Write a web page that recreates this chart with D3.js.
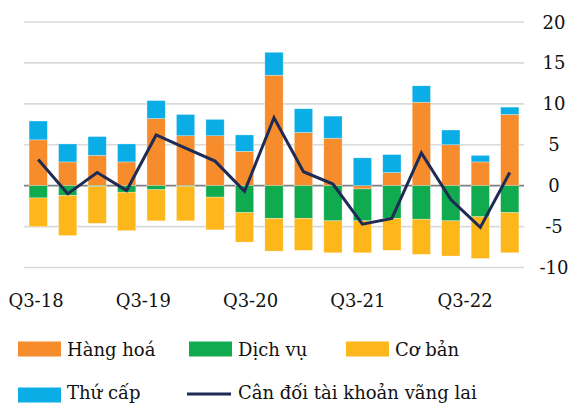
<!DOCTYPE html>
<html>
<head>
<meta charset="utf-8">
<script src="https://cdn.jsdelivr.net/npm/d3@7"></script>
<style>
  body { margin: 0; background: #fff; }
  svg text { font-family: 'DejaVu Serif', serif; fill: #111; }
</style>
</head>
<body>
<svg id="chart" width="574" height="403"></svg>
<script>
'use strict';

var quarters = ['Q3-18', 'Q4-18', 'Q1-19', 'Q2-19', 'Q3-19', 'Q4-19', 'Q1-20', 'Q2-20',
                'Q3-20', 'Q4-20', 'Q1-21', 'Q2-21', 'Q3-21', 'Q4-21', 'Q1-22', 'Q2-22', 'Q3-22'];
var tickLabels = ['Q3-18', 'Q3-19', 'Q3-20', 'Q3-21', 'Q3-22'];
var yTicks = [-10, -5, 0, 5, 10, 15, 20];

// series, % GDP
var hangHoa = [5.6, 2.9, 3.7, 2.9, 8.2, 6.1, 6.1, 4.2, 13.5, 6.5, 5.8, -0.4, 1.6, 10.2, 5.0, 2.9, 8.7];
var dichVu  = [-1.5, -1.2, -0.1, -0.8, -0.5, -0.1, -1.4, -3.3, -4.0, -4.0, -4.3, -3.9, -4.0, -4.1, -4.3, -3.8, -3.3];
var coBan   = [-3.5, -4.9, -4.5, -4.7, -3.8, -4.2, -4.0, -3.6, -4.0, -3.9, -3.9, -3.9, -3.9, -4.3, -4.3, -5.1, -4.9];
var thuCap  = [2.3, 2.2, 2.3, 2.2, 2.2, 2.6, 2.0, 2.0, 2.8, 2.9, 2.7, 3.4, 2.2, 2.0, 1.8, 0.8, 0.9];
var canDoi  = [3.2, -1.0, 1.6, -0.6, 6.2, 4.6, 3.0, -0.7, 8.3, 1.7, 0.2, -4.7, -4.0, 4.0, -1.7, -5.1, 1.6];

var seriesNames = ['Hàng hoá', 'Dịch vụ', 'Cơ bản', 'Thứ cấp'];
var seriesColors = ['#f68c2c', '#10aa4f', '#fdb71b', '#0aade5'];
var lineName = 'Cân đối tài khoản vãng lai';
var lineColor = '#1d2b55';

var rows = quarters.map(function(q, i) {
  return {q: q, 'Hàng hoá': hangHoa[i], 'Dịch vụ': dichVu[i], 'Cơ bản': coBan[i], 'Thứ cấp': thuCap[i]};
});

var svg = d3.select('#chart');

var x = d3.scaleBand()
    .domain(quarters)
    .range([23.5, 524.5])
    .paddingInner(0.38)
    .paddingOuter(0.19);

var y = d3.scaleLinear()
    .domain([-10, 20])
    .range([267.5, 22]);

// gridlines
svg.append('g')
    .selectAll('line')
    .data(yTicks)
  .enter().append('line')
    .attr('x1', 24)
    .attr('x2', 524)
    .attr('y1', function(d) { return y(d); })
    .attr('y2', function(d) { return y(d); })
    .attr('stroke', function(d) { return d === 0 ? '#808080' : '#dadada'; })
    .attr('stroke-width', 1.7);

// right axis labels
svg.append('g')
    .selectAll('text')
    .data(yTicks)
  .enter().append('text')
    .attr('x', 554)
    .attr('y', function(d) { return y(d) + 6.5; })
    .attr('text-anchor', 'middle')
    .style('font-size', '18px')
    .text(function(d) { return d; });

// stacked bars, negatives stacked downward
var stack = d3.stack()
    .keys(seriesNames)
    .offset(d3.stackOffsetDiverging);

var layers = svg.append('g')
    .selectAll('g')
    .data(stack(rows))
  .enter().append('g')
    .attr('fill', function(d, i) { return seriesColors[i]; });

layers.selectAll('rect')
    .data(function(d) { return d; })
  .enter().append('rect')
    .attr('x', function(d) { return x(d.data.q); })
    .attr('width', x.bandwidth())
    .attr('y', function(d) { return y(d[1]); })
    .attr('height', function(d) { return Math.abs(y(d[0]) - y(d[1])); })
    .attr('stroke', '#fff')
    .attr('stroke-opacity', 0.5)
    .attr('stroke-width', 0.6);

// current account line
var line = d3.line()
    .x(function(d, i) { return x(quarters[i]) + x.bandwidth() / 2; })
    .y(function(d) { return y(d); });

svg.append('path')
    .datum(canDoi)
    .attr('d', line)
    .attr('fill', 'none')
    .attr('stroke', lineColor)
    .attr('stroke-width', 3)
    .attr('stroke-linejoin', 'miter');

// category labels (Excel spaces them on its own grid)
var xLabel = d3.scalePoint()
    .domain(tickLabels)
    .range([36, 465]);

svg.append('g')
    .selectAll('text')
    .data(tickLabels)
  .enter().append('text')
    .attr('x', function(d) { return xLabel(d); })
    .attr('y', 307)
    .attr('text-anchor', 'middle')
    .style('font-size', '18px')
    .text(function(d) { return d; });

// legend: [x, swatch centre, text baseline]
var legendPos = [[18, 349, 356], [189, 349, 356], [346, 349, 356], [18, 395, 399]];
var legend = svg.append('g');

seriesNames.forEach(function(name, i) {
  var p = legendPos[i];
  legend.append('rect')
      .attr('x', p[0])
      .attr('y', p[1] - 7.5)
      .attr('width', 43)
      .attr('height', 15)
      .attr('fill', seriesColors[i]);
  legend.append('text')
      .attr('x', p[0] + 49)
      .attr('y', p[2])
      .style('font-size', '18px')
      .text(name);
});

legend.append('line')
    .attr('x1', 187)
    .attr('x2', 231)
    .attr('y1', 394)
    .attr('y2', 394)
    .attr('stroke', lineColor)
    .attr('stroke-width', 3);
legend.append('text')
    .attr('x', 238)
    .attr('y', 399)
    .style('font-size', '18px')
    .text(lineName);
</script>
</body>
</html>
